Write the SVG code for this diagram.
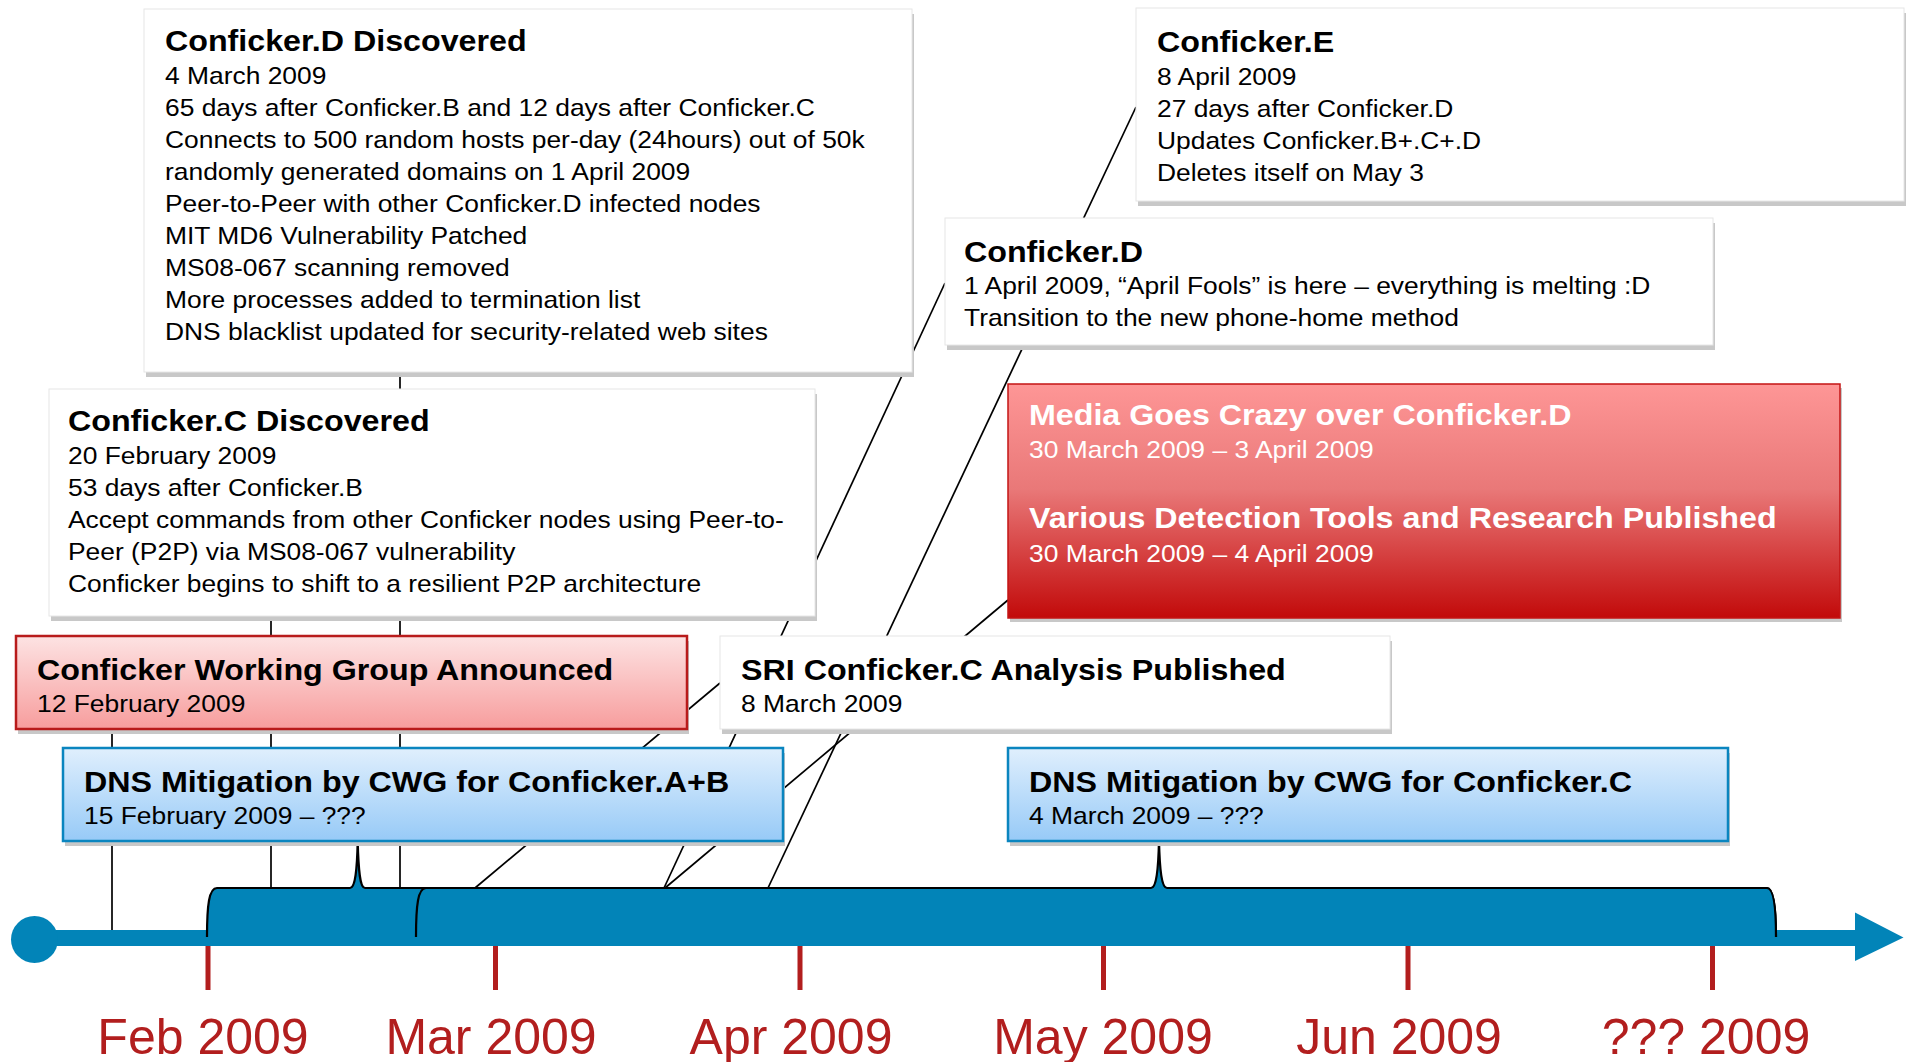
<svg xmlns="http://www.w3.org/2000/svg" width="1911" height="1062" viewBox="0 0 1911 1062">
  <defs>
    <linearGradient id="gPink" x1="0" y1="0" x2="0" y2="1">
      <stop offset="0" stop-color="#fde3e3"/>
      <stop offset="1" stop-color="#f79d9d"/>
    </linearGradient>
    <linearGradient id="gRed" x1="0" y1="0" x2="0" y2="1">
      <stop offset="0" stop-color="#fe9696"/>
      <stop offset="0.45" stop-color="#e97878"/>
      <stop offset="1" stop-color="#c20a0a"/>
    </linearGradient>
    <linearGradient id="gBlue" x1="0" y1="0" x2="0" y2="1">
      <stop offset="0" stop-color="#e0effd"/>
      <stop offset="1" stop-color="#97caf7"/>
    </linearGradient>
    <style>
      .ln { stroke: #000; stroke-width: 1.7; fill: none; }
      .shadow { fill: #c8c8c8; }
      .plain { fill: #fff; stroke: #e6e6e6; stroke-width: 1; }
      .pink { fill: url(#gPink); stroke: #b81b1b; stroke-width: 2.5; }
      .red { fill: url(#gRed); stroke: #c41414; stroke-width: 1.5; }
      .blue { fill: url(#gBlue); stroke: #0a85bf; stroke-width: 2.5; }
      .tx { font-family: "Liberation Sans", Arial, sans-serif; font-size: 24px; fill: #000; }
      .tt { font-weight: bold; font-size: 29.3px; }
      .wt { fill: #fff; }
      .bar { fill: #0284b8; }
      .brace-edge { fill: none; stroke: #000; stroke-width: 2.2; }
      .tick { fill: #b21e1e; }
      .lbl { font-family: "Liberation Sans", Arial, sans-serif; font-size: 50px; fill: #b21e1e; text-anchor: middle; }
    </style>
  </defs>

  <rect width="1911" height="1062" fill="#fff"/>

  <!-- connectors from each event box down to the time axis -->
  <g id="connectors">
    <line class="ln" x1="112" y1="729" x2="112" y2="931"/>
    <line class="ln" x1="271" y1="616" x2="271" y2="888"/>
    <line class="ln" x1="400" y1="372" x2="400" y2="888"/>
    <line class="ln" x1="475" y1="888" x2="720" y2="683"/>
    <line class="ln" x1="664" y1="888" x2="945" y2="283"/>
    <line class="ln" x1="665" y1="888" x2="1008" y2="600"/>
    <line class="ln" x1="768" y1="888" x2="1136" y2="107"/>
  </g>

  <!-- time axis -->
  <g id="axis">
    <rect class="bar" x="34" y="930" width="1826" height="16"/>
    <circle class="bar" cx="34.5" cy="939.5" r="23.5"/>
    <polygon class="bar" points="1855,912.5 1903.5,937.5 1855,961"/>
    <!-- span: DNS mitigation A+B -->
    <path class="bar" d="M207,946 L207,937 C207,905 209,888 217,888 L350,888 C355,888 357,872 357.7,841 C358.5,872 360,888 365,888 L1767,888 C1773,888 1776,905 1776,937 L1776,946 Z"/>
    <path class="brace-edge" d="M207,937 C207,905 209,888 217,888 L350,888 C355,888 357,872 357.7,841 C358.5,872 360,888 365,888 L1767,888 C1773,888 1776,905 1776,937"/>
    <!-- span: DNS mitigation C -->
    <path class="bar" d="M416,946 L416,937 C416,905 418,888 426,888 L1151,888 C1156,888 1158.3,872 1159,840 C1159.7,872 1162,888 1167,888 L1767,888 C1773,888 1776,905 1776,937 L1776,946 Z"/>
    <path class="brace-edge" d="M416,937 C416,905 418,888 426,888 L1151,888 C1156,888 1158.3,872 1159,840 C1159.7,872 1162,888 1167,888 L1767,888 C1773,888 1776,905 1776,937"/>
    <rect class="tick" x="205.5" y="946" width="5" height="44"/>
    <rect class="tick" x="493" y="946" width="5" height="44"/>
    <rect class="tick" x="797.5" y="946" width="5" height="44"/>
    <rect class="tick" x="1101" y="946" width="5" height="44"/>
    <rect class="tick" x="1405.5" y="946" width="5" height="44"/>
    <rect class="tick" x="1710" y="946" width="5" height="44"/>
    <text class="lbl" x="203" y="1054">Feb 2009</text>
    <text class="lbl" x="491" y="1054">Mar 2009</text>
    <text class="lbl" x="791" y="1054">Apr 2009</text>
    <text class="lbl" x="1103" y="1054">May 2009</text>
    <text class="lbl" x="1399" y="1054">Jun 2009</text>
    <text class="lbl" x="1706" y="1054">??? 2009</text>
  </g>

  <g id="conficker-d-discovered">
    <rect class="shadow" x="146" y="14" width="768" height="363"/>
    <rect class="plain" x="144" y="9" width="768" height="363"/>
    <text class="tx" transform="translate(165,51) scale(1.1,1)">
      <tspan class="tt" x="0" y="0">Conficker.D Discovered</tspan>
      <tspan x="0" dy="33">4 March 2009</tspan>
      <tspan x="0" dy="32">65 days after Conficker.B and 12 days after Conficker.C</tspan>
      <tspan x="0" dy="32">Connects to 500 random hosts per-day (24hours) out of 50k</tspan>
      <tspan x="0" dy="32">randomly generated domains on 1 April 2009</tspan>
      <tspan x="0" dy="32">Peer-to-Peer with other Conficker.D infected nodes</tspan>
      <tspan x="0" dy="32">MIT MD6 Vulnerability Patched</tspan>
      <tspan x="0" dy="32">MS08-067 scanning removed</tspan>
      <tspan x="0" dy="32">More processes added to termination list</tspan>
      <tspan x="0" dy="32">DNS blacklist updated for security-related web sites</tspan>
    </text>
  </g>

  <g id="conficker-e">
    <rect class="shadow" x="1138" y="13" width="768" height="193"/>
    <rect class="plain" x="1136" y="8" width="768" height="193"/>
    <text class="tx" transform="translate(1157,52) scale(1.1,1)">
      <tspan class="tt" x="0" y="0">Conficker.E</tspan>
      <tspan x="0" dy="33">8 April 2009</tspan>
      <tspan x="0" dy="32">27 days after Conficker.D</tspan>
      <tspan x="0" dy="32">Updates Conficker.B+.C+.D</tspan>
      <tspan x="0" dy="32">Deletes itself on May 3</tspan>
    </text>
  </g>

  <g id="conficker-d">
    <rect class="shadow" x="947" y="223" width="768" height="127"/>
    <rect class="plain" x="945" y="218" width="768" height="127"/>
    <text class="tx" transform="translate(964,261.5) scale(1.1,1)">
      <tspan class="tt" x="0" y="0">Conficker.D</tspan>
      <tspan x="0" dy="33">1 April 2009, “April Fools” is here – everything is melting :D</tspan>
      <tspan x="0" dy="32">Transition to the new phone-home method</tspan>
    </text>
  </g>

  <g id="media">
    <rect class="shadow" x="1010" y="388" width="832" height="234"/>
    <rect class="red" x="1008" y="384" width="832" height="234"/>
    <text class="tx wt" transform="translate(1029,425) scale(1.1,1)">
      <tspan class="tt" x="0" y="0">Media Goes Crazy over Conficker.D</tspan>
      <tspan x="0" dy="33.5">30 March 2009 – 3 April 2009</tspan>
      <tspan class="tt" x="0" dy="70">Various Detection Tools and Research Published</tspan>
      <tspan x="0" dy="34">30 March 2009 – 4 April 2009</tspan>
    </text>
  </g>

  <g id="conficker-c-discovered">
    <rect class="shadow" x="51" y="394" width="766" height="227"/>
    <rect class="plain" x="49" y="389" width="766" height="227"/>
    <text class="tx" transform="translate(68,431) scale(1.1,1)">
      <tspan class="tt" x="0" y="0">Conficker.C Discovered</tspan>
      <tspan x="0" dy="33">20 February 2009</tspan>
      <tspan x="0" dy="32">53 days after Conficker.B</tspan>
      <tspan x="0" dy="32">Accept commands from other Conficker nodes using Peer-to-</tspan>
      <tspan x="0" dy="32">Peer (P2P) via MS08-067 vulnerability</tspan>
      <tspan x="0" dy="32">Conficker begins to shift to a resilient P2P architecture</tspan>
    </text>
  </g>

  <g id="cwg-announced">
    <rect class="shadow" x="18" y="641" width="671" height="93"/>
    <rect class="pink" x="16" y="636" width="671" height="93"/>
    <text class="tx" transform="translate(37,679.5) scale(1.1,1)">
      <tspan class="tt" x="0" y="0">Conficker Working Group Announced</tspan>
      <tspan x="0" dy="33">12 February 2009</tspan>
    </text>
  </g>

  <g id="sri-analysis">
    <rect class="shadow" x="722" y="641" width="670" height="93"/>
    <rect class="plain" x="720" y="636" width="670" height="93"/>
    <text class="tx" transform="translate(741,679.5) scale(1.1,1)">
      <tspan class="tt" x="0" y="0">SRI Conficker.C Analysis Published</tspan>
      <tspan x="0" dy="33">8 March 2009</tspan>
    </text>
  </g>

  <g id="dns-mitigation-ab">
    <rect class="shadow" x="65" y="753" width="720" height="93"/>
    <rect class="blue" x="63" y="748" width="720" height="93"/>
    <text class="tx" transform="translate(84,791.5) scale(1.1,1)">
      <tspan class="tt" x="0" y="0">DNS Mitigation by CWG for Conficker.A+B</tspan>
      <tspan x="0" dy="33">15 February 2009 – ???</tspan>
    </text>
  </g>

  <g id="dns-mitigation-c">
    <rect class="shadow" x="1010" y="753" width="720" height="93"/>
    <rect class="blue" x="1008" y="748" width="720" height="93"/>
    <text class="tx" transform="translate(1029,791.5) scale(1.1,1)">
      <tspan class="tt" x="0" y="0">DNS Mitigation by CWG for Conficker.C</tspan>
      <tspan x="0" dy="33">4 March 2009 – ???</tspan>
    </text>
  </g>
</svg>
